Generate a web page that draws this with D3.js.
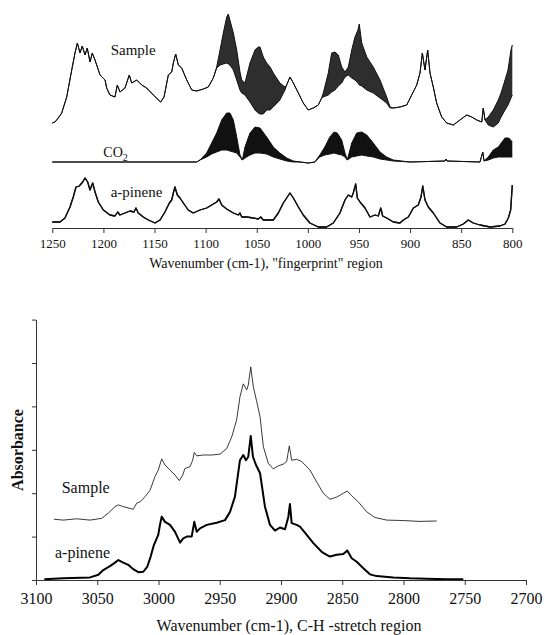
<!DOCTYPE html>
<html>
<head>
<meta charset="utf-8">
<script src="https://cdn.jsdelivr.net/npm/d3@7"></script>
<style>
  html, body { margin: 0; padding: 0; background: #fff; }
  svg { display: block; }
  svg text { font-family: "Liberation Serif", "DejaVu Serif", "Times New Roman", serif !important; fill: #111; }
</style>
</head>
<body>
<svg id="chart" width="545" height="635" style='font-family: "Liberation Serif", "DejaVu Serif", serif;'></svg>
<script>
// ---------- Data (wavenumber cm-1, absorbance in arbitrary units) ----------
// Points are [wavenumber, value] or, inside dense rotational bands, [wavenumber, lowerEnvelope, upperEnvelope]
const fingerprintTicks = [1250, 1200, 1150, 1100, 1050, 1000, 950, 900, 850, 800];
const chTicks = [3100, 3050, 3000, 2950, 2900, 2850, 2800, 2750, 2700];
const chAbsTicks = [0, 1, 2, 3, 4, 5, 6];

const fpSample = [
  [1250,105],[1247.4,106],[1244.1,110],[1240.8,115],[1235.9,131],[1231.0,158],[1227.8,175],[1225.5,185],
  [1222.9,175],[1220.7,182],[1218.0,173],[1215.8,180],[1213.1,166],[1210.9,175],[1208.2,168],[1203.3,153],
  [1198.4,148],[1196.8,140],[1193.6,133],[1188.7,131],[1186.4,143],[1183.8,136],[1178.9,140],[1174.7,153],
  [1172.3,145],[1167.4,148],[1162.5,143],[1157.7,140],[1151.2,133],[1144.0,126],[1140.7,131],[1136.5,153],
  [1133.2,156],[1131.6,165],[1129.3,174],[1126.7,163],[1123.4,160],[1118.5,148],[1113.6,138],[1108.7,137],
  [1102.3,139],[1097.4,141],[1092.5,150],
  [1089.2,160,161],[1085.9,163,178],[1082.7,164,195],[1079.4,165,211],[1077.8,164,214],[1075.5,162,205],
  [1072.9,158,195],[1069.6,148,178],[1066.4,138,156],[1064.7,135,148],[1061.5,133,145],[1056.6,126,165],
  [1051.7,118,178],[1048.5,115,181],[1046.8,114,181],[1043.6,114,171],[1040.3,118,165],[1037.0,118,161],
  [1033.8,121,155],[1027.4,128,145],[1022.4,138,141],
  [1020.7,143],[1017.5,151],[1014.2,145],[1009.3,135],[1004.5,125],[999.6,118],[994.7,120],[989.8,123],[986.5,130],
  [984.9,131,135],[980.0,133,155],[976.7,136,175],[973.5,138,176],[970.2,142,173],[966.9,145,161],
  [963.7,151,156],[960.4,153,161],[957.1,150,178],[953.9,148,191],[951.0,145,198],[949.7,143,204],
  [947.3,142,185],[942.4,138,171],[936.0,135,161],[929.4,130,148],[922.9,125,131],[919.6,120,121],
  [916.4,120],[909.9,121],[903.3,123],[898.4,133],[893.5,143],[890.3,155],[888.0,175],[885.4,158],
  [882.8,178],[880.5,155],[877.3,141],[874.0,125],[869.1,111],[864.2,105],[857.7,103],[851.2,108],
  [844.6,113],[839.7,111],[834.8,108],[829.9,106],[828.4,120],[826.7,108],
  [823.5,103,111],[818.6,101,118],[813.7,105,128],[811.0,111,135],[807.1,118,148],[804.2,123,158],
  [801.3,130,178],[800,133,183]
];

const fpCO2 = [
  [1250,66],[1108.7,66],
  [1105.5,68],[1099.0,71,75],[1094.1,74,85],[1089.2,76,95],[1084.3,78,108],[1079.4,78,115],[1076.2,77,115],
  [1072.9,76,108],[1069.6,75,91],[1066.4,71,73],[1064.1,68],
  [1061.5,70,81],[1056.6,73,95],[1051.7,75,101],[1046.8,75,100],[1040.3,74,91],[1033.8,71,81],
  [1027.4,69,75],[1020.7,67,70],[1014.2,66,67],
  [1007.7,66],[999.6,65],[993.2,66],
  [988.3,71,73],[983.4,73,81],[978.5,74,91],[974.4,75,96],[971.2,74,95],[966.9,73,88],[963.7,71,75],[961.4,68],
  [957.1,71,85],[952.2,72,95],[947.3,73,96],[942.4,72,93],[936.0,71,85],[929.4,69,76],[922.9,68,71],[916.4,67,68],
  [900.1,66],[865.8,67],[864.9,69],[863.9,67],[831.6,66],[828.9,76],[827.6,67],
  [823.5,68,71],[818.6,70,78],[813.7,71,81],[810.1,71,86],[807.1,71,90],[803.4,71,90],[800,71,86]
];

const fpPinene = [
  [1250,6],[1242.5,6],[1237.6,10],[1232.7,21],[1229.5,31],[1226.8,41],[1223.6,42],[1220.3,46],[1218.0,50],
  [1215.4,46],[1213.1,38],[1210.5,45],[1208.2,36],[1205.0,26],[1200.1,18],[1193.6,13],[1188.7,12],[1186.0,16],
  [1183.8,13],[1178.9,15],[1174.0,17],[1170.1,16],[1168.1,20],[1165.9,15],[1161.0,11],[1156.1,8],[1149.5,5],
  [1144.6,8],[1139.8,16],[1135.5,25],[1133.2,28],[1131.6,35],[1130.0,41],[1127.7,33],[1125.1,30],[1121.8,25],
  [1117.0,18],[1112.1,15],[1105.5,18],[1099.0,20],[1094.1,23],[1089.2,26],[1086.9,29],[1084.3,23],[1079.4,19],
  [1072.9,15],[1068.0,13],[1066.4,15],[1064.7,11],[1059.8,11],[1053.4,10],[1048.5,9],[1046.1,11],[1043.6,8],
  [1040.3,8],[1033.8,8],[1028.9,15],[1024.0,25],[1020.1,31],[1017.5,35],[1014.2,30],[1009.3,21],[1004.5,13],
  [998.0,5],[989.8,1],[981.6,1],[975.1,5],[968.6,15],[963.7,28],[960.4,33],[957.1,31],[955.6,35],[953.2,44],
  [951.6,30],[949.0,26],[944.1,20],[939.2,11],[934.3,13],[931.1,12],[928.7,20],[926.8,12],[922.9,10],[916.4,6],
  [909.9,5],[906.6,8],[901.7,11],[896.8,20],[892.0,23],[889.3,31],[887.6,42],[885.4,28],[882.2,21],[877.3,15],
  [870.7,5],[864.2,1],[854.4,1],[847.9,4],[843.0,8],[838.2,5],[831.6,3],[821.8,1],[812.2,2],[807.1,4],
  [803.9,10],[801.6,18],[800,43]
];

const chSample = [
  [3085.3,1.40],[3077.7,1.38],[3066.8,1.41],[3055.9,1.38],[3046.4,1.42],[3041.0,1.54],[3035.5,1.69],[3032.8,1.73],
  [3028.7,1.69],[3023.3,1.65],[3020.6,1.63],[3017.8,1.77],[3015.1,1.80],[3011.0,1.92],[3006.9,2.07],[3002.9,2.38],
  [3000.2,2.53],[2997.4,2.79],[2994.7,2.65],[2990.6,2.53],[2986.5,2.42],[2983.0,2.29],[2980.2,2.42],[2978.4,2.57],
  [2974.3,2.61],[2972.1,2.76],[2970.8,2.94],[2968.8,2.86],[2963.4,2.88],[2956.6,2.88],[2949.8,2.90],[2944.3,3.03],
  [2940.2,3.30],[2936.2,3.69],[2933.5,4.22],[2930.8,4.52],[2928.0,4.38],[2926.7,4.49],[2924.7,4.91],[2922.6,4.45],
  [2919.8,4.11],[2917.1,3.76],[2914.4,3.07],[2910.4,2.69],[2906.3,2.56],[2902.2,2.63],[2898.1,2.67],[2895.4,2.73],
  [2893.2,3.09],[2891.3,2.76],[2887.2,2.78],[2883.1,2.73],[2876.3,2.53],[2870.9,2.26],[2865.5,2.00],[2860.0,1.86],
  [2854.5,1.91],[2849.1,2.00],[2845.9,2.05],[2842.3,1.94],[2836.9,1.80],[2830.0,1.57],[2823.3,1.44],[2813.7,1.38],
  [2800.2,1.37],[2786.5,1.35],[2772.9,1.36]
];

const chPinene = [
  [3093.2,0.02],[3077.7,0.04],[3055.9,0.06],[3049.1,0.12],[3045.1,0.23],[3039.6,0.32],[3035.5,0.40],[3032.8,0.46],
  [3028.7,0.40],[3024.7,0.35],[3020.6,0.25],[3016.5,0.18],[3012.4,0.19],[3009.1,0.31],[3006.4,0.54],[3003.7,0.81],
  [3000.2,1.04],[2998.8,1.27],[2997.4,1.46],[2994.7,1.34],[2990.6,1.27],[2986.5,1.11],[2982.4,0.86],[2979.8,0.96],
  [2977.0,1.00],[2972.9,1.00],[2970.8,1.34],[2968.8,1.11],[2966.1,1.19],[2960.6,1.27],[2952.5,1.32],[2945.7,1.38],
  [2941.6,1.57],[2937.6,1.92],[2933.5,2.76],[2930.8,2.88],[2928.6,2.76],[2926.7,2.84],[2924.7,3.32],[2922.9,2.84],
  [2920.4,2.65],[2917.1,2.46],[2913.1,1.69],[2909.0,1.27],[2904.9,1.14],[2900.8,1.21],[2896.7,1.17],[2894.0,1.46],
  [2892.7,1.75],[2891.3,1.31],[2887.2,1.27],[2884.5,1.23],[2879.0,1.04],[2873.6,0.85],[2866.8,0.65],[2862.7,0.58],
  [2860.0,0.54],[2854.5,0.58],[2849.1,0.60],[2845.9,0.68],[2842.3,0.50],[2838.2,0.42],[2832.8,0.27],[2827.4,0.13],
  [2821.9,0.09],[2808.3,0.06],[2794.7,0.04],[2781.1,0.03],[2764.7,0.02],[2751.2,0.02]
];

// ---------- Chart ----------
const FONT = '"Liberation Serif", "DejaVu Serif", "Times New Roman", serif';
const svg = d3.select("#chart");
const axisColor = "#333";

// Top panel: fingerprint region
const xTop = d3.scaleLinear().domain([1250, 800]).range([52.3, 512.3]);
const yTop = d3.scaleLinear().domain([0, 228]).range([228, 0]);

function drawSpectrum(g, data, x, y, width, fillCol, edgeCol) {
  const hi = d => (d.length > 2 ? d[2] : d[1]);
  g.append("path").datum(data)
    .attr("d", d3.area().x(d => x(d[0])).y0(d => y(d[1])).y1(d => y(hi(d))))
    .attr("fill", fillCol).attr("stroke", "none");
  g.append("path").datum(data)
    .attr("d", d3.line().x(d => x(d[0])).y(d => y(d[1])))
    .attr("fill", "none").attr("stroke", edgeCol).attr("stroke-width", width).attr("stroke-linejoin", "round");
  g.append("path").datum(data)
    .attr("d", d3.line().x(d => x(d[0])).y(d => y(hi(d))))
    .attr("fill", "none").attr("stroke", edgeCol).attr("stroke-width", width).attr("stroke-linejoin", "round");
}

const gTop = svg.append("g");
drawSpectrum(gTop, fpSample, xTop, yTop, 1, "#2e2e2e", "#111");
drawSpectrum(gTop, fpCO2, xTop, yTop, 1, "#111", "#111");
drawSpectrum(gTop, fpPinene, xTop, yTop, 1.3, "#111", "#111");

function styleAxis(ax, size) {
  ax.attr("font-family", null);
  ax.select(".domain").attr("stroke", axisColor);
  ax.selectAll(".tick line").attr("stroke", axisColor);
  ax.selectAll(".tick text").attr("font-size", size).style("font-family", FONT).attr("fill", "#111");
}

const axTop = svg.append("g").attr("transform", `translate(0,${yTop(0)})`)
  .call(d3.axisBottom(xTop).tickValues(fingerprintTicks).tickFormat(d3.format("d"))
    .tickSize(5).tickSizeOuter(0).tickPadding(6));
styleAxis(axTop, 13);

function label(x, y, size, txt) {
  return svg.append("text").attr("x", x).attr("y", y).attr("font-size", size)
    .style("font-family", FONT).text(txt);
}

label(266, 268, 14, 'Wavenumber (cm-1), "fingerprint" region').attr("text-anchor", "middle");
label(xTop(1192.9), yTop(173), 15, "Sample");
const co2 = label(xTop(1200.1), yTop(71), 14, null);
co2.append("tspan").text("CO");
co2.append("tspan").attr("font-size", 10).attr("dy", 4).text("2");
label(xTop(1192.9), yTop(31), 15, "a-pinene");

// Bottom panel: C-H stretch region
const xBot = d3.scaleLinear().domain([3100, 2700]).range([36, 526]);
const yBot = d3.scaleLinear().domain([0, 6]).range([580, 319.6]);

const gBot = svg.append("g");
gBot.append("path").datum(chSample)
  .attr("d", d3.line().x(d => xBot(d[0])).y(d => yBot(d[1])))
  .attr("fill", "none").attr("stroke", "#222").attr("stroke-width", 0.9).attr("stroke-linejoin", "round");
gBot.append("path").datum(chPinene)
  .attr("d", d3.line().x(d => xBot(d[0])).y(d => yBot(d[1])))
  .attr("fill", "none").attr("stroke", "#000").attr("stroke-width", 2).attr("stroke-linejoin", "round");

const axBx = svg.append("g").attr("transform", `translate(0,${yBot(0)})`)
  .call(d3.axisBottom(xBot).tickValues(chTicks).tickFormat(d3.format("d"))
    .tickSize(5).tickSizeOuter(0).tickPadding(8));
styleAxis(axBx, 16);

const axBy = svg.append("g").attr("transform", `translate(${xBot(3100)},0)`)
  .call(d3.axisLeft(yBot).tickValues(chAbsTicks).tickFormat("").tickSize(4).tickSizeOuter(0));
styleAxis(axBy, 16);

label(289, 631, 16, "Wavenumber (cm-1), C-H -stretch region").attr("text-anchor", "middle");

svg.append("text").attr("transform", "translate(23,450) rotate(-90)").attr("text-anchor", "middle")
  .attr("font-size", 16).attr("font-weight", "bold").style("font-family", FONT).text("Absorbance");

label(xBot(3079), yBot(2.0), 16, "Sample");
label(xBot(3084.5), yBot(0.507), 16, "a-pinene");
</script>
</body>
</html>
